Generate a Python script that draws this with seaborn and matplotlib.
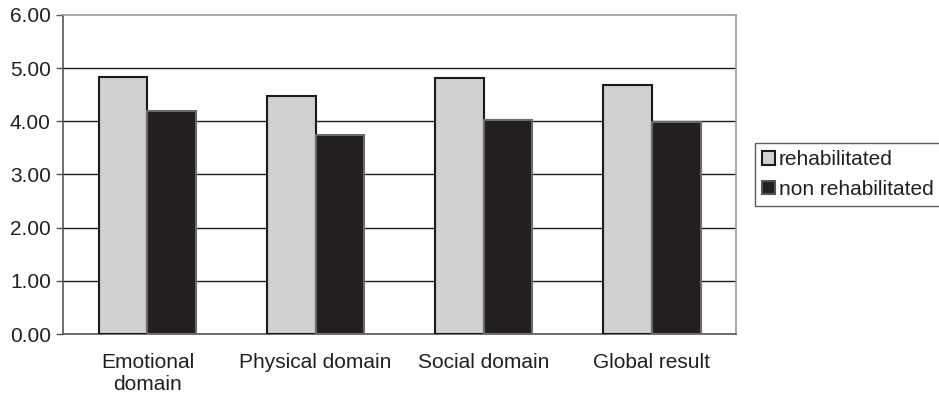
import matplotlib
matplotlib.use("Agg")
import matplotlib.pyplot as plt
from matplotlib.ticker import FixedLocator
from matplotlib.patches import Patch
import seaborn as sns
import pandas as pd

categories = ["Emotional\ndomain", "Physical domain", "Social domain", "Global result"]
rehabilitated = [4.84, 4.47, 4.81, 4.69]
non_rehabilitated = [4.19, 3.75, 4.02, 3.98]
series = ["rehabilitated", "non rehabilitated"]
y_ticks = [0, 1, 2, 3, 4, 5, 6]

df = pd.DataFrame({
    "domain": categories * 2,
    "group": [series[0]] * len(categories) + [series[1]] * len(categories),
    "score": rehabilitated + non_rehabilitated,
})

sns.set_style("white")
plt.rcParams["font.family"] = ["Liberation Sans", "DejaVu Sans"]

fill_colors = ["#cfd0d2", "#231f20"]
edge_colors = ["#1a1a1a", "#6a6a6a"]
fs = 15

fig = plt.figure(figsize=(9.39, 4.03), dpi=100)
ax = fig.add_axes([0.0674, 0.1712, 0.7164, 0.7916])

sns.barplot(data=df, x="domain", y="score", hue="group", hue_order=series,
            palette=fill_colors, width=0.58, gap=0, legend=False, ax=ax,
            errorbar=None, saturation=1, zorder=3)

for cont, ec in zip(ax.containers, edge_colors):
    for bar in cont:
        bar.set_edgecolor(ec)
        bar.set_linewidth(1.5)

ax.set_xlim(-0.5, len(categories) - 0.5)
ax.set_ylim(0, 6)
ax.set_yticks(y_ticks)
ax.set_yticklabels([f"{v:.2f}" for v in y_ticks], fontsize=fs, color="#231f20")
ax.set_xticks(range(len(categories)))
ax.set_xticklabels(categories, fontsize=fs, color="#231f20", linespacing=1.15)
ax.set_xlabel("")
ax.set_ylabel("")
ax.tick_params(axis="x", which="major", length=0, pad=14)
ax.xaxis.set_minor_locator(FixedLocator([i - 0.5 for i in range(len(categories) + 1)]))
ax.tick_params(axis="x", which="minor", length=5, width=1, color="#555555", direction="out")
ax.tick_params(axis="y", length=5, width=1, color="#555555", direction="out", pad=4, left=True)

for v in y_ticks[1:-1]:
    ax.axhline(v, color="#1a1a1a", linewidth=1, zorder=1)

for side in ["top", "right"]:
    ax.spines[side].set_visible(True)
    ax.spines[side].set_color("#9a9a9a")
    ax.spines[side].set_linewidth(1.2)
for side in ["left", "bottom"]:
    ax.spines[side].set_color("#555555")
    ax.spines[side].set_linewidth(1.2)

handles = [Patch(facecolor=fc, edgecolor=ec, linewidth=1.5, label=lab)
           for fc, ec, lab in zip(fill_colors, ["#1a1a1a", "#555555"], series)]
leg = fig.legend(handles=handles, loc="upper left", bbox_to_anchor=(755 / 939, 1 - 143 / 403),
                 frameon=True, fancybox=False, shadow=False, fontsize=fs,
                 handlelength=0.6, handleheight=0.6, handletextpad=0.2,
                 borderpad=0.35, labelspacing=0.5, borderaxespad=0)
leg.get_frame().set_edgecolor("#333333")
leg.get_frame().set_linewidth(1)
for t in leg.get_texts():
    t.set_color("#231f20")

fig.savefig("out.png", dpi=100)
